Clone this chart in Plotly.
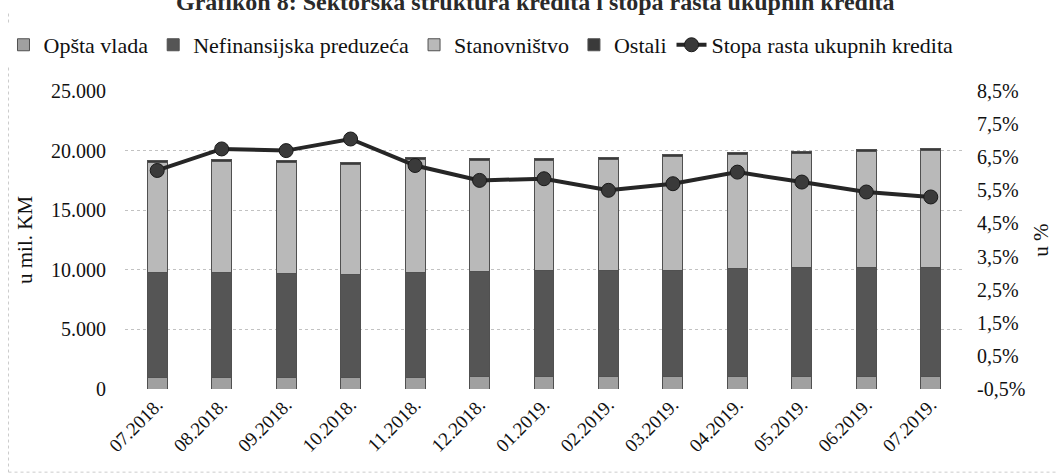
"""
    Sektorska struktura kredita i stopa rasta ukupnih kredita
"""

import plotly.graph_objs as go

# Data (u mil. KM and %)
months = [
    "07.2018.", "08.2018.", "09.2018.", "10.2018.", "11.2018.", "12.2018.", "01.2019.",
    "02.2019.", "03.2019.", "04.2019.", "05.2019.", "06.2019.", "07.2019.",
]
opsta_vlada = [950, 960, 980, 990, 1000, 1020, 1010, 1020, 1030, 1040, 1050, 1060, 1070]
nefinansijska = [8850, 8820, 8740, 8610, 8750, 8830, 8890, 8960, 8920, 9060, 9150, 9120, 9160]
stanovnistvo = [9210, 9315, 9320, 9220, 9490, 9325, 9305, 9275, 9515, 9600, 9585, 9730, 9750]
ostali = [160, 165, 160, 150, 170, 170, 165, 170, 175, 180, 175, 180, 180]
stopa_rasta = [6.1, 6.75, 6.7, 7.05, 6.25, 5.8, 5.85, 5.5, 5.7, 6.05, 5.75, 5.45, 5.3]

left_tickvals = [0, 5000, 10000, 15000, 20000, 25000]
left_ticktext = ["0", "5.000", "10.000", "15.000", "20.000", "25.000"]
right_tickvals = [-0.5, 0.5, 1.5, 2.5, 3.5, 4.5, 5.5, 6.5, 7.5, 8.5]
right_ticktext = ["-0,5%", "0,5%", "1,5%", "2,5%", "3,5%", "4,5%", "5,5%", "6,5%", "7,5%", "8,5%"]

FONT = "Liberation Serif"

# Bar traces
iter_data = {
    "Opšta vlada": ("#a0a0a0", opsta_vlada),
    "Nefinansijska preduzeća": ("#555555", nefinansijska),
    "Stanovništvo": ("#b9b9b9", stanovnistvo),
    "Ostali": ("#3a3a3a", ostali),
}

data = []
for name, (color, values) in iter_data.items():
    data.append(
        go.Bar(
            x=months,
            y=values,
            name=name,
            marker={"color": color, "line": {"color": "#505050", "width": 1}},
        )
    )

# Growth rate trace
data.append(
    go.Scatter(
        x=months,
        y=stopa_rasta,
        name="Stopa rasta ukupnih kredita",
        mode="lines+markers",
        yaxis="y2",
        line={"color": "#262626", "width": 4},
        marker={"color": "#3a3a3a", "size": 14, "line": {"color": "#1a1a1a", "width": 1}},
    )
)

layout = go.Layout(
    width=1057,
    height=474,
    margin={"l": 125, "r": 94, "t": 91, "b": 85, "autoexpand": False},
    paper_bgcolor="white",
    plot_bgcolor="white",
    barmode="stack",
    bargap=0.69,
    font={"family": FONT, "size": 19, "color": "#111111"},
    showlegend=True,
    legend={
        "orientation": "h",
        "x": -0.145,
        "xanchor": "left",
        "y": 1.225,
        "yanchor": "top",
        "traceorder": "normal",
        "font": {"family": FONT, "size": 22, "color": "#111111"},
        "itemwidth": 30,
        "tracegroupgap": 0,
    },
    xaxis={
        "range": [-0.5, 12.5],
        "tickangle": -45,
        "showgrid": False,
        "showline": False,
        "ticks": "",
        "tickfont": {"family": FONT, "size": 19},
    },
    yaxis={
        "range": [0, 25000],
        "tickvals": left_tickvals,
        "ticktext": left_ticktext,
        "showgrid": True,
        "gridcolor": "#c2c2c2",
        "griddash": "dot",
        "gridwidth": 1,
        "zeroline": False,
        "showline": False,
        "ticks": "outside",
        "ticklen": 14,
        "tickcolor": "rgba(0,0,0,0)",
        "tickfont": {"family": FONT, "size": 20},
        "title": {"text": "u mil. KM", "font": {"family": FONT, "size": 21}, "standoff": 12},
    },
    yaxis2={
        "range": [-0.5, 8.5],
        "tickvals": right_tickvals,
        "ticktext": right_ticktext,
        "overlaying": "y",
        "side": "right",
        "showgrid": False,
        "zeroline": False,
        "showline": False,
        "ticks": "outside",
        "ticklen": 9,
        "tickcolor": "rgba(0,0,0,0)",
        "tickfont": {"family": FONT, "size": 20},
        "title": {"text": "u %", "font": {"family": FONT, "size": 21}, "standoff": 8},
    },
    annotations=[
        {
            "text": "<b>Grafikon 8: Sektorska struktura kredita i stopa rasta ukupnih kredita</b>",
            "xref": "paper",
            "yref": "paper",
            "x": 0.49,
            "y": 1.30,
            "xanchor": "center",
            "yanchor": "middle",
            "showarrow": False,
            "font": {"family": FONT, "size": 24, "color": "#2a2a2a"},
        }
    ],
    shapes=[
        {
            "type": "line",
            "xref": "paper",
            "yref": "paper",
            "x0": -0.139,
            "x1": -0.139,
            "y0": 1.26,
            "y1": -0.279,
            "line": {"color": "#cccccc", "width": 1, "dash": "dot"},
        },
        {
            "type": "line",
            "xref": "paper",
            "yref": "paper",
            "x0": -0.139,
            "x1": 1.12,
            "y0": -0.279,
            "y1": -0.279,
            "line": {"color": "#cccccc", "width": 1, "dash": "dot"},
        },
    ],
)

fig = go.Figure(data=data, layout=layout)

# page body has a default 8px margin; drop it so the figure sits at the window corner
fig.write_html(
    "out.html",
    config={"displayModeBar": False},
    post_script="document.body.style.margin = '0';",
)
